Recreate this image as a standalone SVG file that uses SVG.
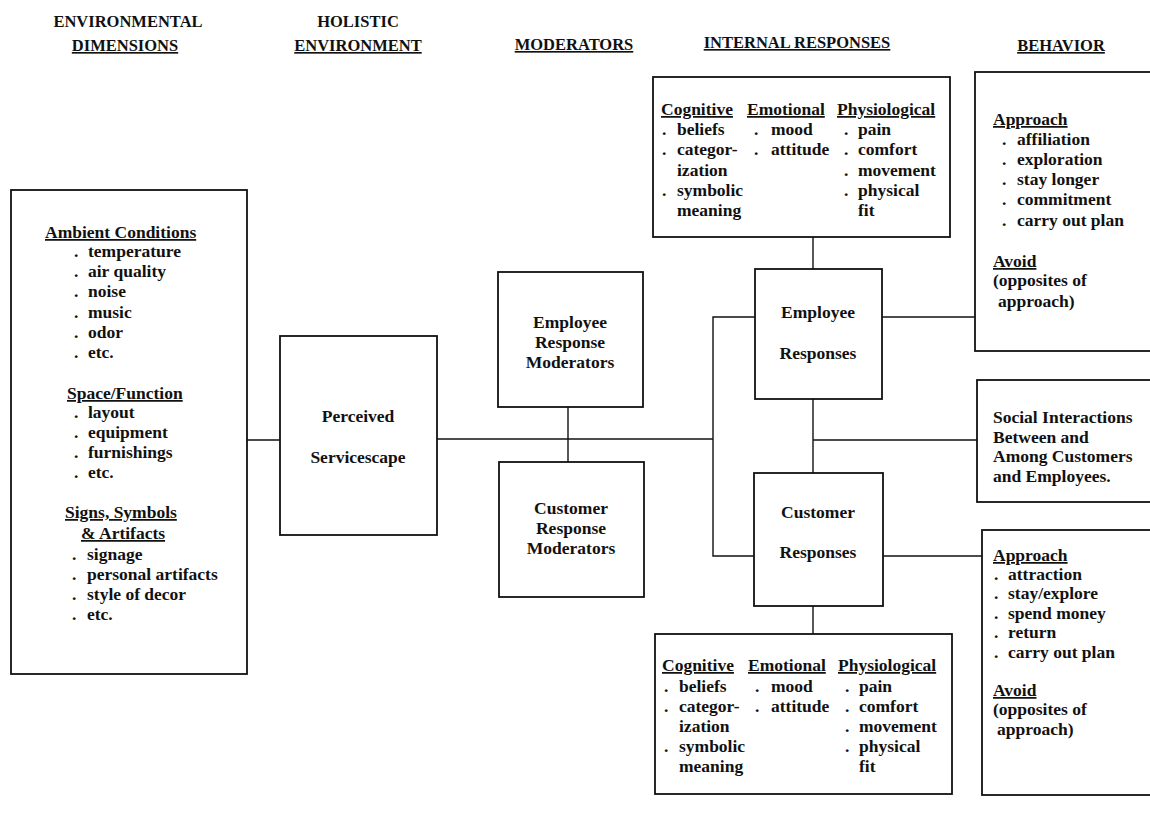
<svg xmlns="http://www.w3.org/2000/svg" width="1150" height="815" viewBox="0 0 1150 815">
<style>
  text { font-family: "Liberation Serif", "Times New Roman", serif; font-weight: bold; fill: #111; }
  .hd { font-size: 16.5px; }
  .t { font-size: 17.5px; }
  .c { text-anchor: middle; }
  .u { text-decoration: underline; }
  .box { fill: #fff; stroke: #111; stroke-width: 1.8; }
  .ln { fill: none; stroke: #111; stroke-width: 1.4; }
</style>
<rect width="1150" height="815" fill="#fff"/>

<g id="headers">
  <text class="hd c" x="128" y="27">ENVIRONMENTAL</text>
  <text class="hd c u" x="125" y="51">DIMENSIONS</text>
  <text class="hd c" x="358" y="27">HOLISTIC</text>
  <text class="hd c u" x="358" y="51">ENVIRONMENT</text>
  <text class="hd c u" x="574" y="50">MODERATORS</text>
  <text class="hd c u" x="797" y="48">INTERNAL RESPONSES</text>
  <text class="hd c u" x="1061" y="51">BEHAVIOR</text>
</g>

<g id="connectors">
  <line class="ln" x1="247" y1="440" x2="280" y2="440"/>
  <line class="ln" x1="437" y1="439" x2="713" y2="439"/>
  <line class="ln" x1="568" y1="407" x2="568" y2="462"/>
  <polyline class="ln" points="755,317 713,317 713,556 754,556"/>
  <line class="ln" x1="813" y1="237" x2="813" y2="269"/>
  <line class="ln" x1="813" y1="399" x2="813" y2="473"/>
  <line class="ln" x1="813" y1="440" x2="977" y2="440"/>
  <line class="ln" x1="882" y1="317" x2="975" y2="317"/>
  <line class="ln" x1="883" y1="556" x2="982" y2="556"/>
  <line class="ln" x1="813" y1="606" x2="813" y2="634"/>
</g>

<g id="environmental-dimensions">
  <rect class="box" x="11" y="190" width="236" height="484"/>
  <text class="t u" x="45" y="238">Ambient Conditions</text>
  <text class="t" x="74" y="257">.</text><text class="t" x="88" y="257">temperature</text>
  <text class="t" x="74" y="277">.</text><text class="t" x="88" y="277">air quality</text>
  <text class="t" x="74" y="297">.</text><text class="t" x="88" y="297">noise</text>
  <text class="t" x="74" y="318">.</text><text class="t" x="88" y="318">music</text>
  <text class="t" x="74" y="338">.</text><text class="t" x="88" y="338">odor</text>
  <text class="t" x="74" y="358">.</text><text class="t" x="88" y="358">etc.</text>
  <text class="t u" x="67" y="399">Space/Function</text>
  <text class="t" x="74" y="418">.</text><text class="t" x="88" y="418">layout</text>
  <text class="t" x="74" y="438">.</text><text class="t" x="88" y="438">equipment</text>
  <text class="t" x="74" y="458">.</text><text class="t" x="88" y="458">furnishings</text>
  <text class="t" x="74" y="478">.</text><text class="t" x="88" y="478">etc.</text>
  <text class="t u" x="65" y="518">Signs, Symbols</text>
  <text class="t u" x="81" y="539">&amp; Artifacts</text>
  <text class="t" x="72" y="560">.</text><text class="t" x="87" y="560">signage</text>
  <text class="t" x="72" y="580">.</text><text class="t" x="87" y="580">personal artifacts</text>
  <text class="t" x="72" y="600">.</text><text class="t" x="87" y="600">style of decor</text>
  <text class="t" x="72" y="620">.</text><text class="t" x="87" y="620">etc.</text>
</g>

<g id="perceived-servicescape">
  <rect class="box" x="280" y="336" width="157" height="199"/>
  <text class="t c" x="358" y="422">Perceived</text>
  <text class="t c" x="358" y="463">Servicescape</text>
</g>

<g id="employee-response-moderators">
  <rect class="box" x="498" y="272" width="145" height="135"/>
  <text class="t c" x="570" y="328">Employee</text>
  <text class="t c" x="570" y="348">Response</text>
  <text class="t c" x="570" y="368">Moderators</text>
</g>

<g id="customer-response-moderators">
  <rect class="box" x="499" y="462" width="145" height="135"/>
  <text class="t c" x="571" y="514">Customer</text>
  <text class="t c" x="571" y="534">Response</text>
  <text class="t c" x="571" y="554">Moderators</text>
</g>

<g id="employee-internal">
  <rect class="box" x="653" y="77" width="297" height="160"/>
  <text class="t u" x="661" y="115">Cognitive</text>
  <text class="t u" x="747" y="115">Emotional</text>
  <text class="t u" x="837" y="115">Physiological</text>
  <text class="t" x="662" y="135">.</text><text class="t" x="677" y="135">beliefs</text>
  <text class="t" x="662" y="155">.</text><text class="t" x="677" y="155">categor-</text>
  <text class="t" x="677" y="176">ization</text>
  <text class="t" x="662" y="196">.</text><text class="t" x="677" y="196">symbolic</text>
  <text class="t" x="677" y="216">meaning</text>
  <text class="t" x="754" y="135">.</text><text class="t" x="771" y="135">mood</text>
  <text class="t" x="754" y="155">.</text><text class="t" x="771" y="155">attitude</text>
  <text class="t" x="844" y="135">.</text><text class="t" x="858" y="135">pain</text>
  <text class="t" x="844" y="155">.</text><text class="t" x="858" y="155">comfort</text>
  <text class="t" x="844" y="176">.</text><text class="t" x="858" y="176">movement</text>
  <text class="t" x="844" y="196">.</text><text class="t" x="858" y="196">physical</text>
  <text class="t" x="858" y="216">fit</text>
</g>

<g id="employee-responses">
  <rect class="box" x="755" y="269" width="127" height="130"/>
  <text class="t c" x="818" y="318">Employee</text>
  <text class="t c" x="818" y="359">Responses</text>
</g>

<g id="customer-responses">
  <rect class="box" x="754" y="473" width="129" height="133"/>
  <text class="t c" x="818" y="518">Customer</text>
  <text class="t c" x="818" y="558">Responses</text>
</g>

<g id="customer-internal">
  <rect class="box" x="655" y="634" width="297" height="160"/>
  <text class="t u" x="662" y="671">Cognitive</text>
  <text class="t u" x="748" y="671">Emotional</text>
  <text class="t u" x="838" y="671">Physiological</text>
  <text class="t" x="664" y="692">.</text><text class="t" x="679" y="692">beliefs</text>
  <text class="t" x="664" y="712">.</text><text class="t" x="679" y="712">categor-</text>
  <text class="t" x="679" y="732">ization</text>
  <text class="t" x="664" y="752">.</text><text class="t" x="679" y="752">symbolic</text>
  <text class="t" x="679" y="772">meaning</text>
  <text class="t" x="755" y="692">.</text><text class="t" x="771" y="692">mood</text>
  <text class="t" x="755" y="712">.</text><text class="t" x="771" y="712">attitude</text>
  <text class="t" x="845" y="692">.</text><text class="t" x="859" y="692">pain</text>
  <text class="t" x="845" y="712">.</text><text class="t" x="859" y="712">comfort</text>
  <text class="t" x="845" y="732">.</text><text class="t" x="859" y="732">movement</text>
  <text class="t" x="845" y="752">.</text><text class="t" x="859" y="752">physical</text>
  <text class="t" x="859" y="772">fit</text>
</g>

<g id="employee-behavior">
  <rect class="box" x="975" y="72" width="190" height="279"/>
  <text class="t u" x="993" y="125">Approach</text>
  <text class="t" x="1002" y="145">.</text><text class="t" x="1017" y="145">affiliation</text>
  <text class="t" x="1002" y="165">.</text><text class="t" x="1017" y="165">exploration</text>
  <text class="t" x="1002" y="185">.</text><text class="t" x="1017" y="185">stay longer</text>
  <text class="t" x="1002" y="205">.</text><text class="t" x="1017" y="205">commitment</text>
  <text class="t" x="1002" y="226">.</text><text class="t" x="1017" y="226">carry out plan</text>
  <text class="t u" x="993" y="267">Avoid</text>
  <text class="t" x="993" y="286">(opposites of</text>
  <text class="t" x="998" y="307">approach)</text>
</g>

<g id="social-interactions">
  <rect class="box" x="977" y="380" width="190" height="122"/>
  <text class="t" x="993" y="423">Social Interactions</text>
  <text class="t" x="993" y="443">Between and</text>
  <text class="t" x="993" y="462">Among Customers</text>
  <text class="t" x="993" y="482">and Employees.</text>
</g>

<g id="customer-behavior">
  <rect class="box" x="982" y="530" width="190" height="265"/>
  <text class="t u" x="993" y="561">Approach</text>
  <text class="t" x="994" y="580">.</text><text class="t" x="1008" y="580">attraction</text>
  <text class="t" x="994" y="599">.</text><text class="t" x="1008" y="599">stay/explore</text>
  <text class="t" x="994" y="619">.</text><text class="t" x="1008" y="619">spend money</text>
  <text class="t" x="994" y="638">.</text><text class="t" x="1008" y="638">return</text>
  <text class="t" x="994" y="658">.</text><text class="t" x="1008" y="658">carry out plan</text>
  <text class="t u" x="993" y="696">Avoid</text>
  <text class="t" x="993" y="715">(opposites of</text>
  <text class="t" x="997" y="735">approach)</text>
</g>
</svg>
